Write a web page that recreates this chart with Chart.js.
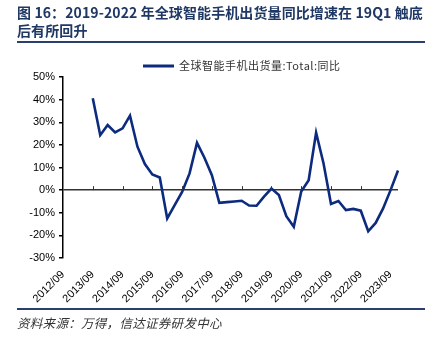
<!DOCTYPE html>
<html>
<head>
<meta charset="utf-8">
<script src="https://cdn.jsdelivr.net/npm/chart.js@4.4.1/dist/chart.umd.min.js"></script>
<style>
  html, body { margin: 0; padding: 0; background: #fff; }
  #wrap { position: relative; width: 433px; height: 338px; overflow: hidden; }
  #title {
    position: absolute; left: 17px; top: 3px; white-space: nowrap;
    font-family: "Noto Sans CJK SC", sans-serif; font-weight: bold;
    font-size: 14px; line-height: 18px; color: #1f3864; letter-spacing: 0.1px;
  }
  .rule { position: absolute; left: 17px; width: 408px; background: #2a3f6e; }
  #source {
    position: absolute; left: 17px; top: 313px;
    font-family: "Noto Sans CJK SC", sans-serif; font-style: italic;
    font-size: 12.5px; color: #333; letter-spacing: 0.3px;
  }
  #chartBox { position: absolute; left: 0; top: 0; width: 433px; height: 338px; }
</style>
</head>
<body>
<div id="wrap">
  <div id="chartBox"><canvas id="shipChart"></canvas></div>
  <div id="title">图 16：2019-2022 年全球智能手机出货量同比增速在 19Q1 触底<br>后有所回升</div>
  <div class="rule" style="top:41px;height:2px;"></div>
  <div class="rule" style="top:308px;height:1.5px;"></div>
  <div id="source">资料来源：万得，信达证券研发中心</div>
</div>
<script>
// quarterly periods, 2012/09 .. 2023/12
const quarters = [
  '2012/09', '2012/12',
  '2013/03', '2013/06', '2013/09', '2013/12',
  '2014/03', '2014/06', '2014/09', '2014/12',
  '2015/03', '2015/06', '2015/09', '2015/12',
  '2016/03', '2016/06', '2016/09', '2016/12',
  '2017/03', '2017/06', '2017/09', '2017/12',
  '2018/03', '2018/06', '2018/09', '2018/12',
  '2019/03', '2019/06', '2019/09', '2019/12',
  '2020/03', '2020/06', '2020/09', '2020/12',
  '2021/03', '2021/06', '2021/09', '2021/12',
  '2022/03', '2022/06', '2022/09', '2022/12',
  '2023/03', '2023/06', '2023/09', '2023/12'
];

// global smartphone shipments, YoY %
const yoyGrowth = [
  null, null,
  null, null, 40.6, 24.3,
  28.8, 25.5, 27.3, 32.9,
  19.2, 11.5, 6.9, 5.6,
  -12.5, -6.6, -0.8, 7.4,
  20.9, 14.3, 6.6, -5.6,
  -5.3, -5.0, -4.7, -6.8,
  -6.9, -2.9, 0.7, -2.2,
  -11.5, -16.2, -0.6, 4.4,
  25.4, 11.8, -6.1, -4.8,
  -8.8, -8.3, -9.1, -18.2,
  -14.5, -8.1, 0.0, 8.7
];

const yTicks = [50, 40, 30, 20, 10, 0, -10, -20, -30];
const seriesName = '全球智能手机出货量:Total:同比';
const navy = '#0d2b7e';

// small upward tick marks on the zero line at each labelled quarter
const zeroTicks = {
  id: 'zeroTicks',
  afterDatasetsDraw(chart) {
    const { ctx, scales: { x, y } } = chart;
    const y0 = y.getPixelForValue(0);
    ctx.save();
    ctx.strokeStyle = '#333';
    ctx.lineWidth = 1;
    quarters.forEach((q, i) => {
      if (i % 4 !== 0 || i === 0) return;
      const px = Math.round(x.getPixelForValue(i)) + 0.5;
      ctx.beginPath();
      ctx.moveTo(px, y0);
      ctx.lineTo(px, y0 - 4);
      ctx.stroke();
    });
    ctx.restore();
  }
};

// single-entry legend above the plot: line sample then series name
const lineLegend = {
  id: 'lineLegend',
  afterDraw(chart) {
    const { ctx, chartArea } = chart;
    const ds = chart.data.datasets[0];
    const x0 = chartArea.left + 80;
    const yMid = chartArea.top - 11;
    ctx.save();
    ctx.strokeStyle = ds.borderColor;
    ctx.lineWidth = 3;
    ctx.beginPath();
    ctx.moveTo(x0, yMid);
    ctx.lineTo(x0 + 31, yMid);
    ctx.stroke();
    ctx.fillStyle = '#333';
    ctx.font = '11px "Noto Sans CJK SC", sans-serif';
    ctx.letterSpacing = '0.5px';
    ctx.textBaseline = 'middle';
    ctx.fillText(ds.label, x0 + 36, yMid);
    ctx.restore();
  }
};

const ctx = document.getElementById('shipChart').getContext('2d');
const chart = new Chart(ctx, {
  type: 'line',
  data: {
    labels: quarters,
    datasets: [{
      label: seriesName,
      data: yoyGrowth,
      borderColor: navy,
      backgroundColor: navy,
      borderWidth: 2.6,
      pointRadius: 0,
      tension: 0,
      spanGaps: false
    }]
  },
  options: {
    responsive: true,
    maintainAspectRatio: false,
    animation: false,
    layout: { padding: { top: 77, right: 35, bottom: 0, left: 0 } },
    plugins: {
      tooltip: { enabled: false },
      legend: { display: false }
    },
    scales: {
      x: {
        offset: false,
        grid: { display: false },
        border: { display: false },
        ticks: {
          autoSkip: false,
          maxRotation: 45,
          minRotation: 45,
          padding: 2,
          color: '#000',
          font: { family: '"Liberation Sans", Arial, sans-serif', size: 11 },
          callback: (v, i) => (i % 4 === 0 ? quarters[i] : '')
        },
        afterFit: (scale) => { scale.height = 80; }
      },
      y: {
        min: -30,
        max: 50,
        afterBuildTicks: (scale) => { scale.ticks = yTicks.map(v => ({ value: v })); },
        grid: {
          drawTicks: true,
          tickLength: 4,
          tickColor: '#000',
          lineWidth: 1.5,
          color: (c) => (c.tick && c.tick.value === 0 ? '#333' : 'rgba(0,0,0,0)')
        },
        border: { display: true, color: '#000', width: 1.5 },
        ticks: {
          padding: 4,
          color: '#000',
          font: { family: '"Liberation Sans", Arial, sans-serif', size: 11 },
          callback: (v) => v + '%'
        },
        afterFit: (scale) => { scale.width = 63; }
      }
    }
  },
  plugins: [zeroTicks, lineLegend]
});
</script>
</body>
</html>
